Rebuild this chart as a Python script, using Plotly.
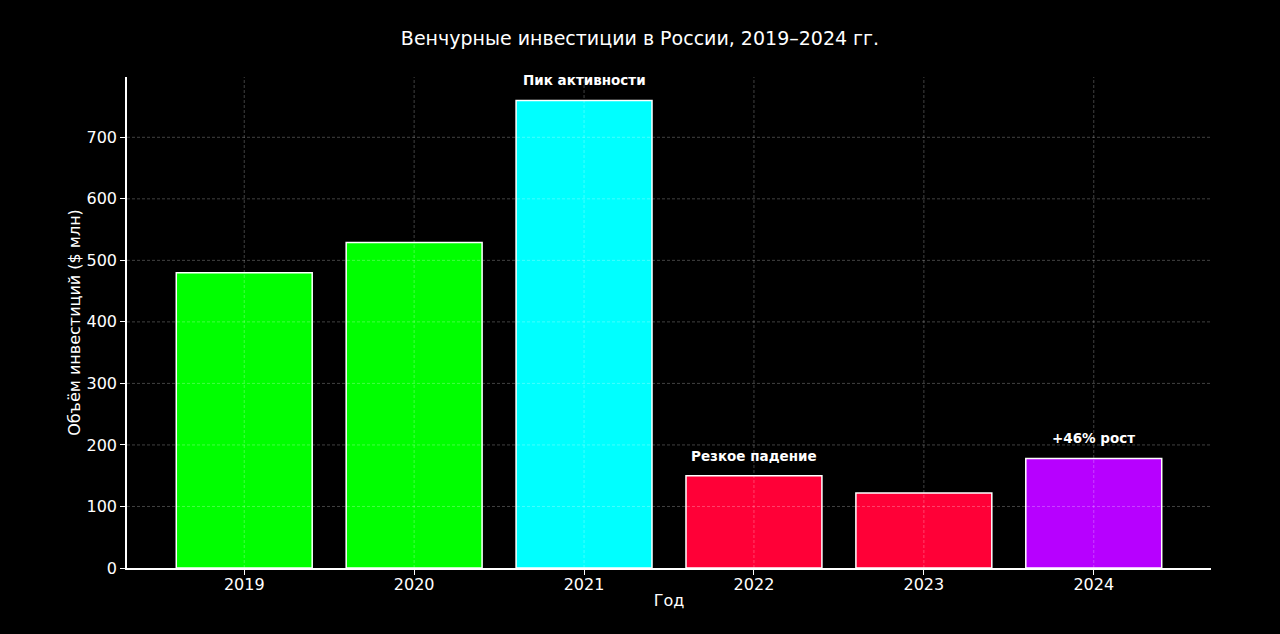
import plotly.graph_objects as go

YEARS = ["2019", "2020", "2021", "2022", "2023", "2024"]
INVESTMENTS = [480, 529, 760, 150, 122, 178]
BAR_COLORS = ["#00FF00", "#00FF00", "#00FFFF", "#FF0037", "#FF0037", "#B700FF"]
NOTE_YEARS = ["2021", "2022", "2024"]
NOTE_TEXTS = ["Пик активности", "Резкое падение", "+46% рост"]

Y_TICKS = [0, 100, 200, 300, 400, 500, 600, 700]

GRID = {"color": "rgba(255,255,255,0.32)", "width": 0.8, "dash": "3px,2px"}

values_by_year = dict(zip(YEARS, INVESTMENTS))

fig = go.Figure()
fig.add_trace(
    go.Bar(
        x=list(range(len(YEARS))),
        y=INVESTMENTS,
        width=0.8,
        marker={"color": BAR_COLORS, "line": {"color": "#FFFFFF", "width": 1.5}},
        customdata=YEARS,
        hovertemplate="%{customdata}: %{y} млн $<extra></extra>",
    )
)

# matplotlib draws the grid over the bars, so use shapes on the top layer
shapes = []
for tick in Y_TICKS[1:]:
    shapes.append(
        {"type": "line", "xref": "paper", "yref": "y", "x0": 0, "x1": 1,
         "y0": tick, "y1": tick, "line": GRID, "layer": "above"}
    )
for i in range(len(YEARS)):
    shapes.append(
        {"type": "line", "xref": "x", "yref": "paper", "x0": i, "x1": i,
         "y0": 0, "y1": 1, "line": GRID, "layer": "above"}
    )

annotations = []
for year, text in zip(NOTE_YEARS, NOTE_TEXTS):
    annotations.append(
        {
            "x": YEARS.index(year),
            "y": values_by_year[year],
            "xref": "x",
            "yref": "y",
            "text": f"<b>{text}</b>",
            "showarrow": False,
            "yanchor": "middle",
            "yshift": 20,
            "font": {"size": 13.5, "color": "#FFFFFF"},
        }
    )

axis_common = {
    "showgrid": False,
    "showline": True,
    "linecolor": "#FFFFFF",
    "linewidth": 1.5,
    "ticks": "outside",
    "ticklen": 5,
    "tickcolor": "#FFFFFF",
    "zeroline": False,
    "tickfont": {"size": 16, "color": "#FFFFFF"},
}

fig.update_layout(
    width=1280,
    height=634,
    paper_bgcolor="#000000",
    plot_bgcolor="#000000",
    font={"family": "DejaVu Sans", "color": "#FFFFFF"},
    title={
        "text": "Венчурные инвестиции в России, 2019–2024 гг.",
        "x": 0.5,
        "xanchor": "center",
        "y": 0.94,
        "yanchor": "middle",
        "font": {"size": 19},
    },
    margin={"l": 127, "r": 69, "t": 77, "b": 66},
    showlegend=False,
    xaxis={
        **axis_common,
        "range": [-0.69, 5.69],
        "tickvals": list(range(len(YEARS))),
        "ticktext": YEARS,
        "ticklabelstandoff": -4,
        "title": {"text": "Год", "font": {"size": 16}, "standoff": 2},
    },
    yaxis={
        **axis_common,
        "range": [0, 798],
        "tickvals": Y_TICKS,
        "title": {"text": "Объём инвестиций ($ млн)", "font": {"size": 16}, "standoff": 2},
    },
    shapes=shapes,
    annotations=annotations,
)

fig.write_html(
    "out.html",
    config={"displayModeBar": False},
    post_script="document.body.style.margin='0';",
)
